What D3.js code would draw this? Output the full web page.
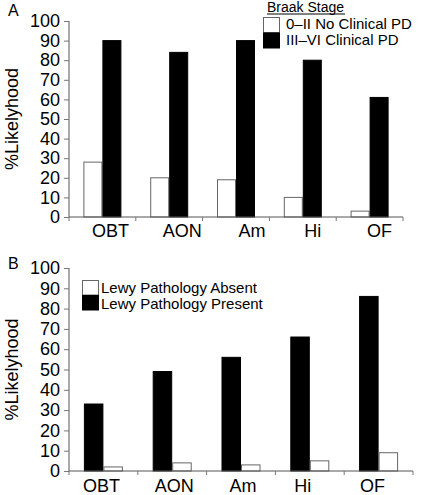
<!DOCTYPE html>
<html><head><meta charset="utf-8">
<script src="https://cdn.jsdelivr.net/npm/d3@7"></script>
<style>body{margin:0;background:#fff}svg{display:block;font-family:"Liberation Sans",Arial,sans-serif}</style>
</head><body><svg id="c" width="421" height="495"></svg>
<script>
const categories = ["OBT","AON","Am","Hi","OF"];
const yTicks = [0,10,20,30,40,50,60,70,80,90,100];
// Panel A
const braakNoPD = [28,20,19,10,3];
const braakPD = [90,84,90,80,61];
const seriesANames = ["0\u2013II No Clinical PD","III\u2013VI Clinical PD"];
// Panel B
const lewyPresent = [33,49,56,66,86];
const lewyAbsent = [2,4,3,5,9];
const seriesBNames = ["Lewy Pathology Absent","Lewy Pathology Present"];

const svg = d3.select("#c");

function panel(cfg){
  const g = svg.append("g");
  const x = d3.scaleBand().domain(categories).range([cfg.x0, cfg.x1]);
  const y = d3.scaleLinear().domain([0,100]).range([cfg.y0, cfg.y1]);
  const bw = cfg.bw;
  cfg.series.forEach((s, si) => {
    g.selectAll(null).data(s.values).enter().append("rect")
      .attr("x", (d,i) => x(categories[i]) + (x.bandwidth() - 2*bw)/2 + si*bw + 0.5)
      .attr("y", d => y(d))
      .attr("width", bw - 1)
      .attr("height", d => y(0) - y(d))
      .attr("fill", s.fill)
      .attr("stroke", s.stroke)
      .attr("stroke-width", 1);
  });
  const ya = g.append("g").attr("transform", `translate(${cfg.x0},0)`)
    .call(d3.axisLeft(y).tickValues(yTicks).tickSize(5).tickPadding(4));
  ya.select(".domain").attr("stroke", "#555").attr("d", `M0,${cfg.y0}V${cfg.y1}`);
  ya.selectAll(".tick line").attr("stroke", "#777");
  ya.selectAll("text").attr("font-size", 18).attr("fill", "#000").attr("font-family", "Liberation Sans, Arial, sans-serif");
  const xa = g.append("g").attr("transform", `translate(0,${cfg.y0})`);
  xa.append("line").attr("x1", cfg.x0).attr("x2", cfg.x1).attr("stroke", "#555");
  const bounds = categories.map(c => x(c)).concat([cfg.x1]);
  xa.selectAll(null).data(bounds).enter().append("line")
    .attr("x1", d => d).attr("x2", d => d).attr("y1", 0).attr("y2", 4).attr("stroke", "#777");
  xa.selectAll(null).data(categories).enter().append("text")
    .attr("x", (d,i) => x(d) + x.bandwidth()/2 + cfg.labelShift[i])
    .attr("y", cfg.labelDy).attr("text-anchor", "middle").attr("font-size", 18).attr("fill", "#000")
    .text(d => d);
  g.append("text").attr("transform", `translate(18,${(cfg.y0+cfg.y1)/2}) rotate(-90)`)
    .attr("text-anchor", "middle").attr("font-size", 18).attr("fill", "#000").text("%Likelyhood");
  g.append("text").attr("x", 8).attr("y", cfg.letterY).attr("font-size", 16).attr("fill", "#000").text(cfg.letter);
  return {x, y, g};
}

panel({x0:69, x1:403, y0:217, y1:21, bw:19, labelDy:20, labelShift:[8,13,16,10,10], letter:"A", letterY:16,
  series:[{values:braakNoPD, fill:"#fff", stroke:"#666"},{values:braakPD, fill:"#000", stroke:"#000"}]});
panel({x0:69, x1:413, y0:471, y1:268, bw:19.5, labelDy:21, labelShift:[-2,2,2,-7,-6], letter:"B", letterY:269,
  series:[{values:lewyPresent, fill:"#000", stroke:"#000"},{values:lewyAbsent, fill:"#fff", stroke:"#666"}]});

const la = svg.append("g");
la.append("text").attr("x", 267).attr("y", 12).attr("font-size", 14).attr("fill", "#000").text("Braak Stage");
la.append("line").attr("x1", 267).attr("x2", 345).attr("y1", 14).attr("y2", 14).attr("stroke", "#000");
const legA = [{name:seriesANames[0], fill:"#fff", stroke:"#666"},{name:seriesANames[1], fill:"#000", stroke:"#000"}];
legA.forEach((d,i) => {
  la.append("rect").attr("x", 263.5).attr("y", 17.5 + i*15.5).attr("width", 16).attr("height", 15)
    .attr("fill", d.fill).attr("stroke", d.stroke);
  la.append("text").attr("x", 286).attr("y", 29 + i*16).attr("font-size", 15).attr("fill", "#000").text(d.name);
});
const lb = svg.append("g");
const legB = [{name:seriesBNames[0], fill:"#fff", stroke:"#666"},{name:seriesBNames[1], fill:"#000", stroke:"#000"}];
legB.forEach((d,i) => {
  lb.append("rect").attr("x", 82.5).attr("y", 280.5 + i*15).attr("width", 16).attr("height", 14.5)
    .attr("fill", d.fill).attr("stroke", d.stroke);
  lb.append("text").attr("x", 101).attr("y", 293 + i*15.5).attr("font-size", 15).attr("fill", "#000").text(d.name);
});
</script>
</body></html>
